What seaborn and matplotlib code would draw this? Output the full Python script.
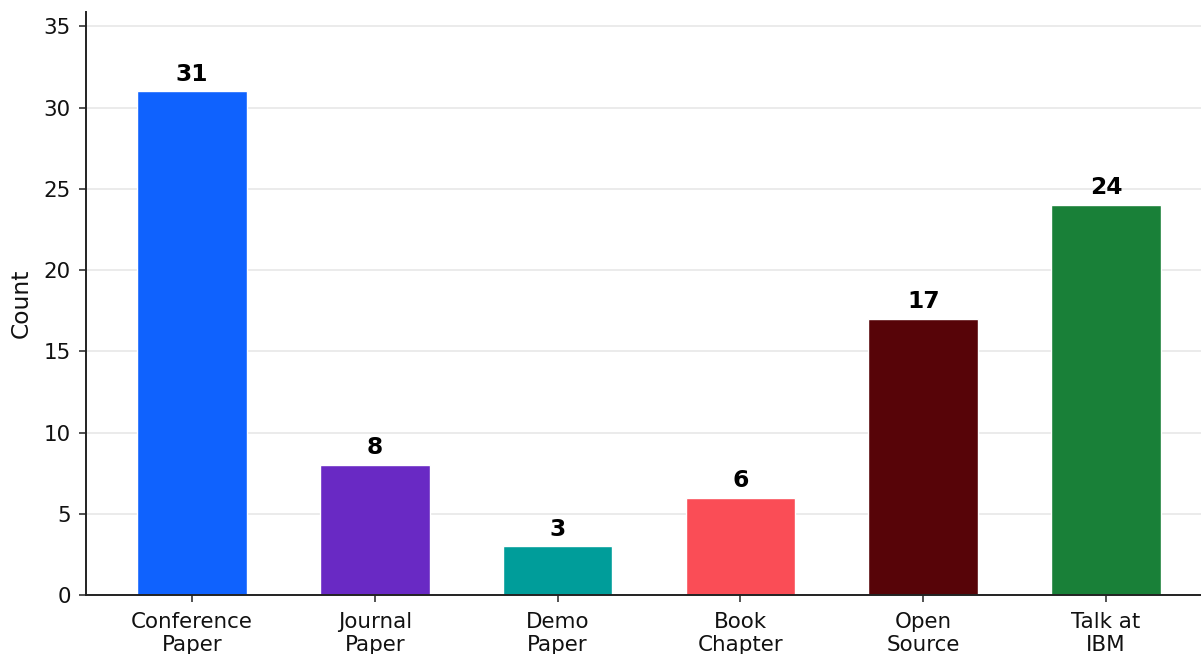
import matplotlib
matplotlib.use("Agg")
import matplotlib.pyplot as plt
import seaborn as sns
import pandas as pd

categories = ["Conference\nPaper", "Journal\nPaper", "Demo\nPaper", "Book\nChapter", "Open\nSource", "Talk at\nIBM"]
counts = [31, 8, 3, 6, 17, 24]
colors = ["#0f62fe", "#6929c4", "#009d9a", "#fa4d56", "#570408", "#198038"]

df = pd.DataFrame({"category": categories, "count": counts})

sns.set_style("white")
plt.rcParams['font.family'] = ['DejaVu Sans']

fig = plt.figure(figsize=(12.01, 6.54), dpi=100)
ax = fig.add_axes([86/1201, 59/654, (1212-86)/1201, (595-11.7)/654])

sns.barplot(data=df, x="category", y="count", hue="category", palette=colors,
            legend=False, width=0.6, ax=ax, saturation=1)

for i, v in enumerate(counts):
    ax.text(i, v + 0.35, str(v), ha="center", va="bottom", fontsize=16.8, fontweight="bold", color="black")

ax.set_xlim(-0.58, 5.58)
ax.set_ylim(0, 35.9)
ax.set_yticks([0, 5, 10, 15, 20, 25, 30, 35])
ax.yaxis.grid(True, color="#e8e8e8", linewidth=1.2)
ax.set_axisbelow(True)
ax.set_xlabel("")
ax.set_ylabel("Count", fontsize=16.8, color="#111111", labelpad=8)
ax.tick_params(axis="both", labelsize=15.4, length=5, width=1.2, direction="out",
               color="#333333", labelcolor="#111111", pad=5)
ax.tick_params(axis="x", bottom=True, pad=7)
ax.tick_params(axis="y", left=True, pad=6)
for s in ["top", "right"]:
    ax.spines[s].set_visible(False)
for s in ["left", "bottom"]:
    ax.spines[s].set_color("#222222")
    ax.spines[s].set_linewidth(1.4)

fig.savefig("out.png", dpi=100)
